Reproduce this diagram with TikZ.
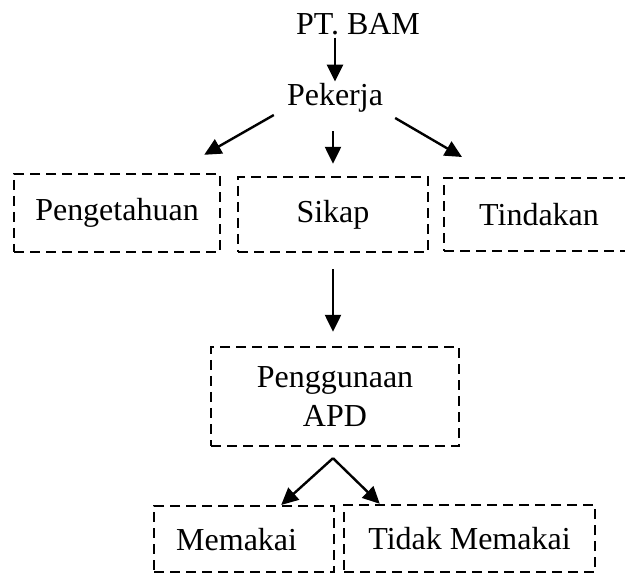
\documentclass[tikz,border=0pt]{standalone}
\usepackage{fontspec}
\setmainfont{Liberation Serif}
\usetikzlibrary{arrows.meta}
\begin{document}
\begin{tikzpicture}[x=1pt,y=-1pt,
    font=\fontsize{32}{39}\selectfont,
    kotak/.style={draw,line width=2.4pt,dash pattern=on 10pt off 6pt},
    panah/.style={-{Triangle[length=17pt,width=16pt]},line width=2.4pt}]
                  \useasboundingbox (0,0) rectangle (625,575);
                  \node[inner sep=2pt,anchor=base] (bam) at (358,35) {PT. BAM};
                  \node[inner sep=2pt,anchor=base] (pekerja) at (335,106) {Pekerja};
                  \node[kotak,minimum width=206pt,minimum height=78pt] (pengetahuan) at (117,213) {Pengetahuan};
                  \node[kotak,minimum width=190pt,minimum height=75pt] (sikap) at (333,214.5) {Sikap};
                  \node[kotak,anchor=north west,text width=170pt,inner xsep=35pt,align=left,minimum height=73pt] (tindakan) at (443,177) {Tindakan};
                  \node[kotak,minimum width=248pt,minimum height=99pt,align=center] (apd) at (335,396.5) {Penggunaan\\APD};
                  \node[kotak,anchor=north west,text width=136pt,inner xsep=22pt,align=left,minimum height=66pt] (memakai) at (153,505) {Memakai};
                  \node[kotak,minimum width=251pt,minimum height=67pt] (tidak) at (469.5,538.5) {Tidak Memakai};
                  \draw[panah] ([xshift=-23pt]bam.south) -- (pekerja.north);
                  \draw[panah] ([xshift=-11pt]pekerja.south west) -- ([xshift=-17pt,yshift=18pt]pengetahuan.north east);
                  \draw[panah] ([xshift=-2pt,yshift=-16pt]pekerja.south) -- ([yshift=12pt]sikap.north);
                  \draw[panah] ([xshift=10pt,yshift=-3pt]pekerja.south east) -- ([xshift=19pt,yshift=20pt]tindakan.north west);
                  \draw[panah] ([yshift=-16pt]sikap.south) -- ([xshift=-2pt,yshift=14pt]apd.north);
                  \coordinate (cabang) at ([xshift=-2pt,yshift=-11pt]apd.south);
                  \draw[panah] (cabang) -- ([xshift=37pt]memakai.north);
                  \draw[panah] (cabang) -- ([xshift=37pt]tidak.north west);
               \end{tikzpicture}
\end{document}
